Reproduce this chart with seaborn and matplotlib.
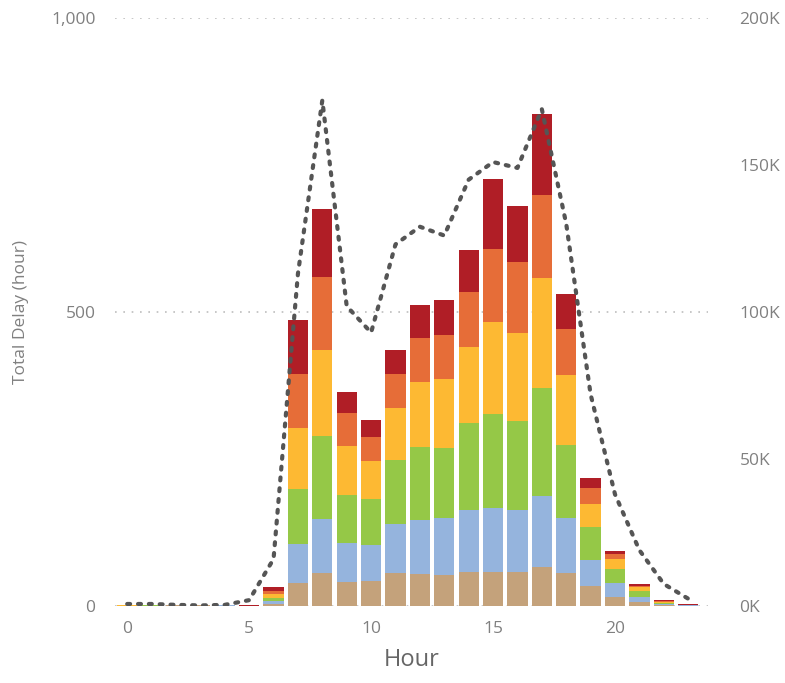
import numpy as np
import pandas as pd
import seaborn as sns
import matplotlib
matplotlib.use("Agg")
import matplotlib.pyplot as plt
from matplotlib.ticker import FuncFormatter

sns.set_theme(style="white")
plt.rcParams['font.family'] = ['Open Sans', 'DejaVu Sans']

hours = list(range(24))

# delay by category (hours), bottom to top of the stack
tan = [0, 0, 1, 2, 0, 0, 3, 39, 56, 41, 43, 56, 54, 53, 58, 58, 58, 66, 56, 34, 15, 7, 2, 0.5]
blue = [0, 0, 0, 0, 2, 0, 6, 66, 92, 66, 61, 84, 92, 97, 105, 109, 105, 121, 94, 44, 24, 8, 1.5, 1.5]
green = [0, 2, 0, 0, 0, 0, 5, 94, 141, 82, 78, 108, 124, 119, 148, 160, 152, 184, 124, 56, 24, 11, 1.5, 0]
yellow = [2, 0, 0, 0, 0, 0, 6, 104, 146, 83, 65, 89, 111, 117, 129, 156, 149, 187, 119, 39, 17, 6, 1.5, 0]
orange = [0, 0, 0, 0, 0, 0, 6, 92, 125, 56, 40, 58, 75, 75, 94, 124, 121, 141, 78, 28, 8, 2, 1.5, 0]
red = [0, 0, 0, 0, 0, 2, 6, 91, 115, 36, 29, 40, 56, 59, 71, 119, 95, 138, 60, 17, 6, 3, 2, 1]

# second series on the right axis
volume = [700, 700, 400, 200, 400, 2000, 16000, 113000, 172000, 102000, 93000, 123000,
          129000, 126000, 145000, 151000, 149000, 169000, 130000, 72000, 38000, 19000, 7500, 2500]

layers = [
    (tan, "#C4A27B"),
    (blue, "#95B4DD"),
    (green, "#95C847"),
    (yellow, "#FDB933"),
    (orange, "#E66D38"),
    (red, "#B01E26"),
]

fig = plt.figure(figsize=(7.85, 6.83), dpi=100)
ax = fig.add_axes([0.1465, 0.1127, 0.755, 0.861])

tops = []
cum = np.zeros(len(hours))
for vals, color in layers:
    cum = cum + np.array(vals, dtype=float)
    tops.append((cum.copy(), color))

# draw cumulative totals from the tallest down so each layer shows its own band
for top, color in reversed(tops):
    sns.barplot(x=hours, y=top, color=color, saturation=1, width=0.83,
                linewidth=0, ax=ax)

ax.set_ylim(0, 1000)
ax.set_yticks([0, 500, 1000])
ax.yaxis.set_major_formatter(FuncFormatter(lambda v, p: f"{v:,.0f}"))
ax.set_xticks([0, 5, 10, 15, 20])
ax.set_xticklabels(["0", "5", "10", "15", "20"])
ax.set_axisbelow(True)
ax.yaxis.grid(True, linestyle=(0, (1, 4)), color="#bdbdbd", linewidth=1.2)
ax.xaxis.grid(False)
for s in ax.spines.values():
    s.set_visible(False)
ax.tick_params(axis="y", length=0, labelsize=12.5, labelcolor="#808080", pad=14)
ax.tick_params(axis="x", length=0, labelsize=12.5, labelcolor="#808080", pad=11)
ax.set_xlabel("Hour", fontsize=17, color="#666666", labelpad=8)
ax.set_ylabel("Total Delay (hour)", fontsize=12.5, color="#808080", labelpad=16)

ax2 = ax.twinx()
sns.lineplot(x=hours, y=volume, ax=ax2, color="#555555", linewidth=3,
             linestyle=(0, (0.7, 1.9)), dash_capstyle="round")
ax2.set_ylim(0, 200000)
ax2.set_yticks([0, 50000, 100000, 150000, 200000])
ax2.yaxis.set_major_formatter(FuncFormatter(lambda v, p: f"{v / 1000:.0f}K"))
ax2.set_ylabel("")
ax2.set_xlabel("")
ax2.grid(False)
for s in ax2.spines.values():
    s.set_visible(False)
ax2.tick_params(axis="y", length=0, labelsize=12.5, labelcolor="#808080", pad=23)

ax.set_xlim(-0.5, 23.8)
ax2.set_xlim(-0.5, 23.8)

fig.savefig("out.png", dpi=100)
